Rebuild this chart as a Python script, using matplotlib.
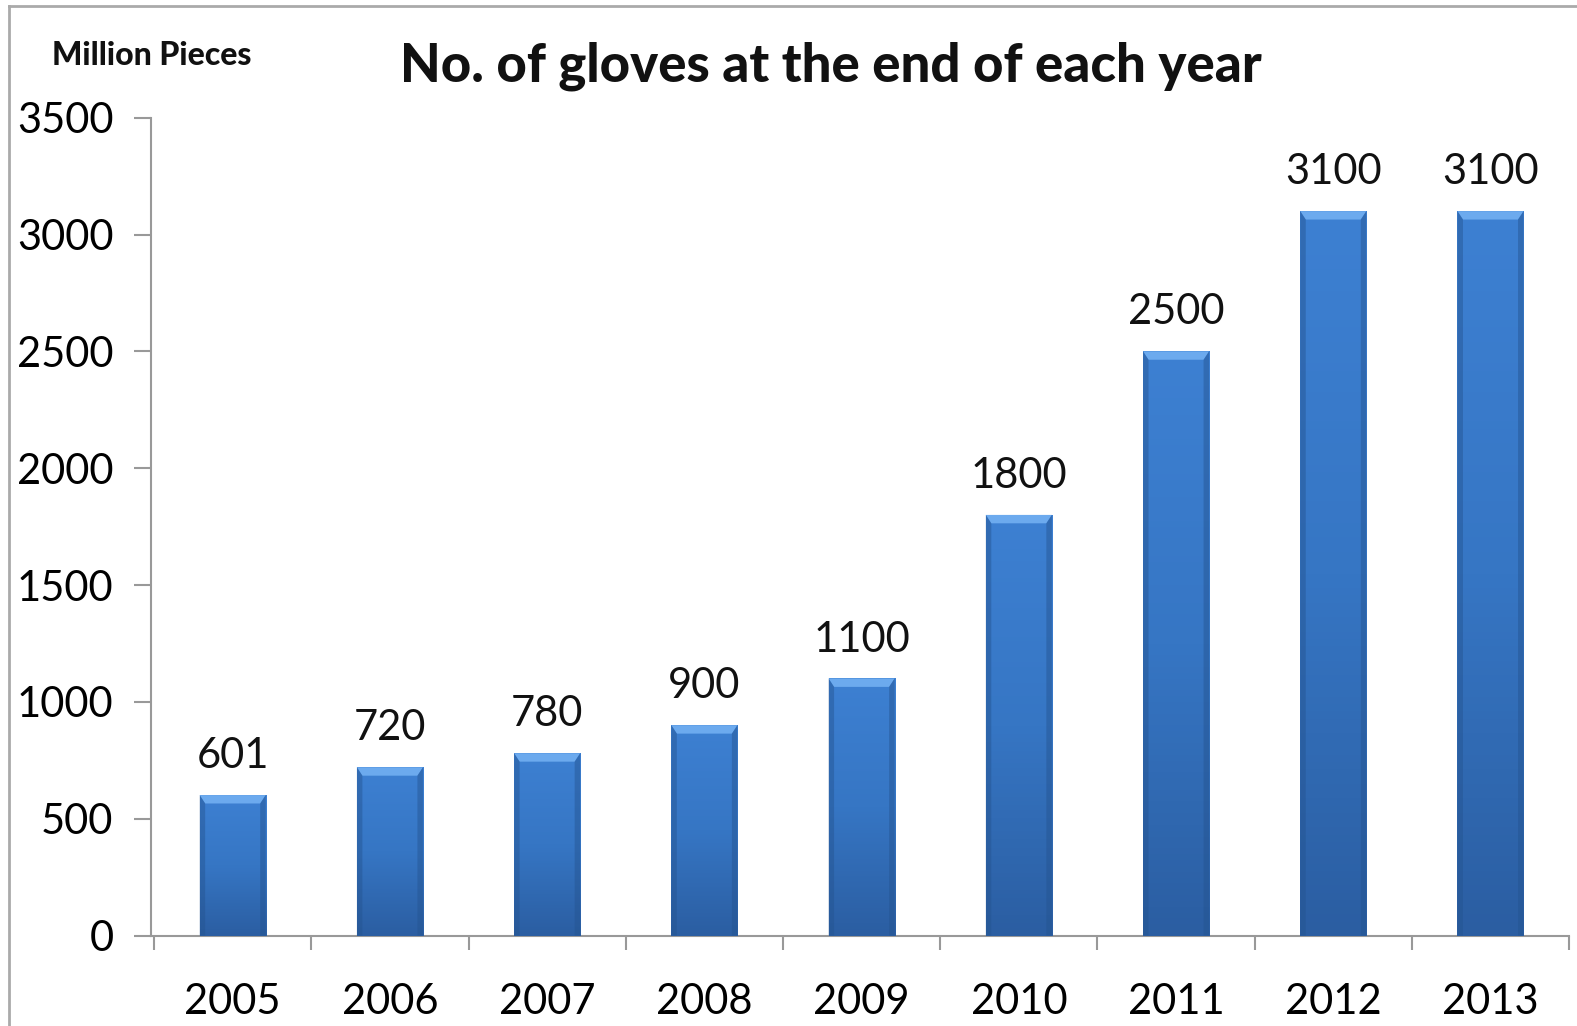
import numpy as np
import matplotlib
matplotlib.use("Agg")
import matplotlib.pyplot as plt
from matplotlib.colors import LinearSegmentedColormap
from matplotlib.lines import Line2D
from matplotlib.patches import Polygon

years = ["2005", "2006", "2007", "2008", "2009", "2010", "2011", "2012", "2013"]
gloves = [601, 720, 780, 900, 1100, 1800, 2500, 3100, 3100]
yticks = [0, 500, 1000, 1500, 2000, 2500, 3000, 3500]

plt.rcParams['font.family'] = ['Lato', 'DejaVu Sans']

fig = plt.figure(figsize=(15.77, 10.26), dpi=100)
ax = fig.add_axes([0.0957, 0.0882, 0.8993, 0.7971])

x = np.arange(len(years))
width = 0.42
bars = ax.bar(x, gloves, width=width, color="#3A78C8", edgecolor="none", zorder=2)

# vertical gradient inside each bar, lighter bevel at the top
grad = LinearSegmentedColormap.from_list("barblue", ["#2B5EA2", "#3676C4", "#3D80D2"])
bev = 36
edge = 0.035
for b, v in zip(bars, gloves):
    x0 = b.get_x()
    img = np.linspace(0, 1, 100).reshape(-1, 1)
    im = ax.imshow(img, cmap=grad, origin="lower", aspect="auto",
                   extent=[x0, x0 + width, 0, v], zorder=3)
    im.set_clip_path(b)
    ax.add_patch(Polygon([[x0, v], [x0 + width, v], [x0 + width - edge, v - bev], [x0 + edge, v - bev]],
                         closed=True, color="#6CAAEE", lw=0, zorder=4))
    ax.add_patch(Polygon([[x0, 0], [x0, v], [x0 + edge, v - bev], [x0 + edge, 0]],
                         closed=True, color="#24538F", alpha=0.45, lw=0, zorder=4))
    ax.add_patch(Polygon([[x0 + width, 0], [x0 + width, v], [x0 + width - edge, v - bev], [x0 + width - edge, 0]],
                         closed=True, color="#24538F", alpha=0.45, lw=0, zorder=4))
    ax.text(b.get_x() + width / 2, v + 85, str(v), ha="center", va="bottom", fontsize=30, color="#111111")

ax.set_xlim(-0.52, 8.5)
ax.set_ylim(0, 3500)
ax.set_yticks(yticks)
ax.set_yticklabels([str(t) for t in yticks], fontsize=30)
ax.set_xticks(x)
ax.set_xticklabels(years, fontsize=30)
ax.set_xticks(np.arange(-0.5, 8.6, 1.0), minor=True)
ax.tick_params(axis="x", which="major", length=0, pad=34)
ax.tick_params(axis="x", which="minor", length=10, color="#999999", width=1.5, direction="out")
ax.tick_params(axis="y", length=12, color="#999999", width=1.5, pad=15)

for s in ["top", "right"]:
    ax.spines[s].set_visible(False)
for s in ["left", "bottom"]:
    ax.spines[s].set_color("#999999")
    ax.spines[s].set_linewidth(1.5)

fig.text(0.527, 0.935, "No. of gloves at the end of each year", ha="center", va="center",
         fontsize=38, fontweight="black", color="#111111")
fig.text(0.033, 0.946, "Million Pieces", ha="left", va="center",
         fontsize=23, fontweight="black", color="#111111")

# outer chart frame
fig.add_artist(Line2D([0.006, 0.006], [0.0, 0.994], color="#aaaaaa", lw=2, transform=fig.transFigure))
fig.add_artist(Line2D([0.006, 1.0], [0.994, 0.994], color="#aaaaaa", lw=2, transform=fig.transFigure))

fig.savefig("out.png", dpi=100)
